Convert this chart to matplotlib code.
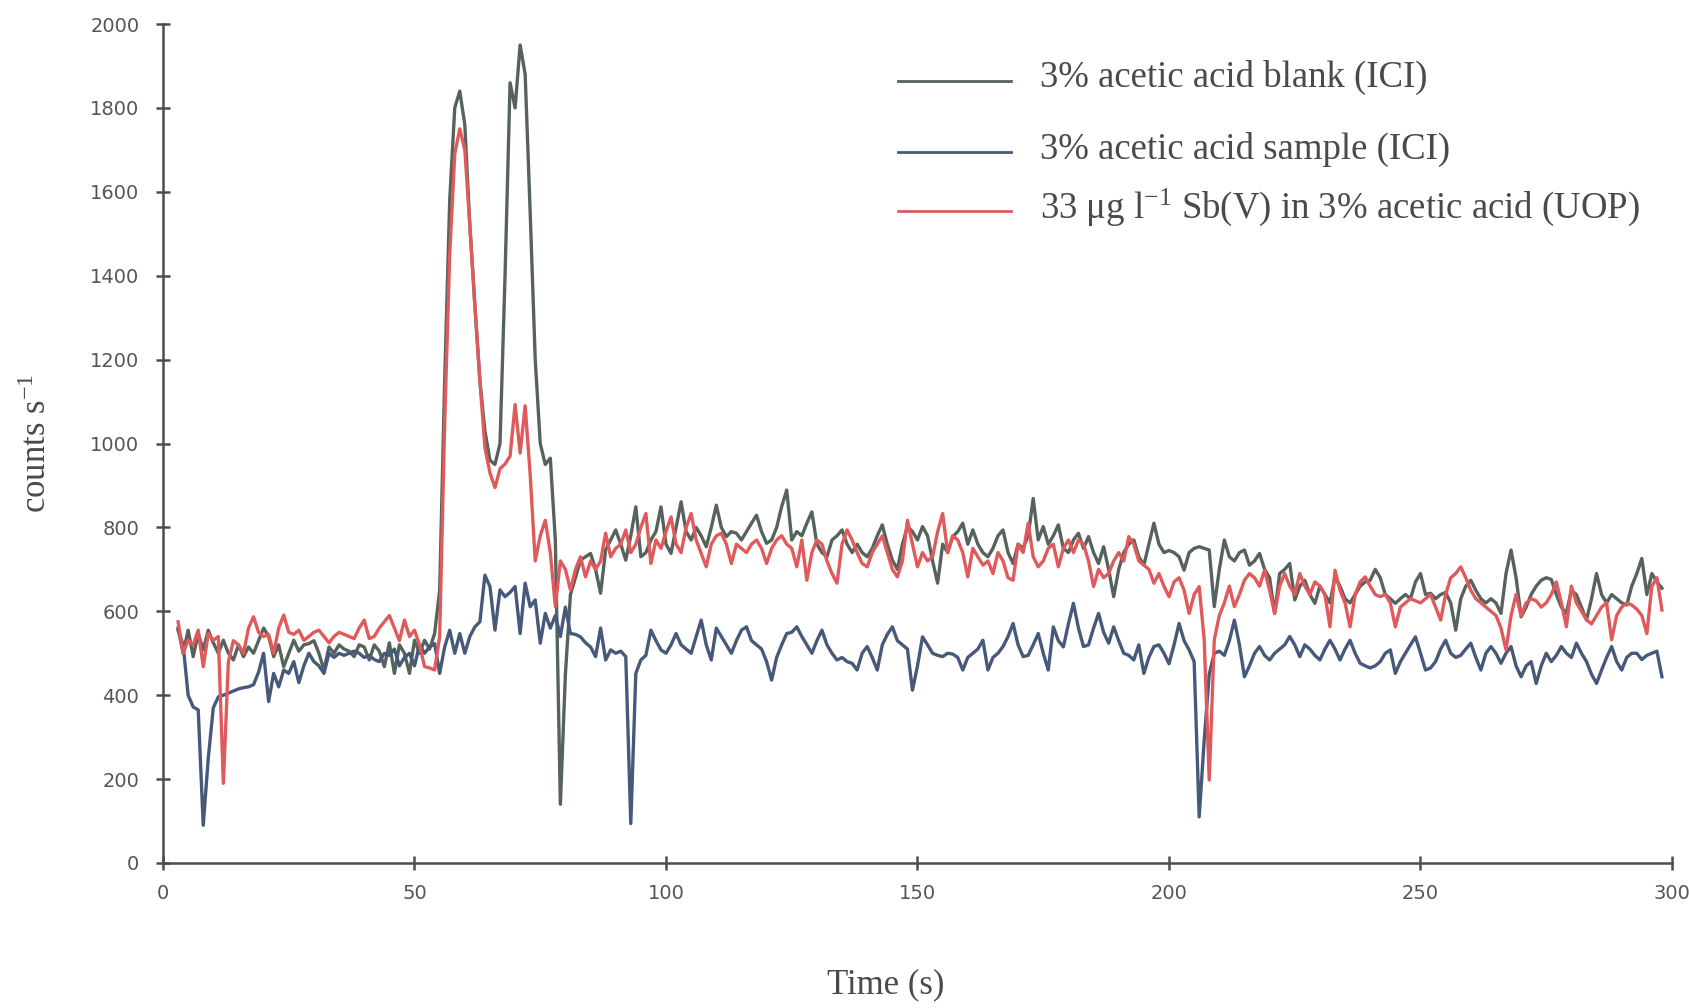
import numpy as np
import matplotlib
matplotlib.use("Agg")
import matplotlib.pyplot as plt
from matplotlib.lines import Line2D

plt.rcParams['mathtext.fontset'] = 'custom'
plt.rcParams['mathtext.rm'] = 'Liberation Serif'
plt.rcParams['mathtext.it'] = 'Liberation Serif:italic'

# ---------------- data (counts per second, sampled every 1 s from t = 3 s) ----------------
t_start = 3

blank_ici = [
    560, 500, 555, 492, 547, 508, 555, 525, 500, 531,
    500, 484, 520, 492, 515, 500, 530, 560, 540, 492,
    520, 468, 500, 531, 505, 520, 523, 530, 500, 460,
    515, 500, 520, 510, 505, 492, 520, 515, 484, 520,
    505, 468, 525, 452, 520, 500, 452, 531, 500, 531,
    510, 547, 650, 1150, 1580, 1800, 1840, 1760, 1520, 1330,
    1150, 1030, 960, 950, 1000, 1400, 1860, 1800, 1950, 1880,
    1550, 1200, 1000, 950, 965, 770, 140, 450, 640, 680,
    722, 730, 738, 700, 643, 746, 770, 794, 760, 722,
    780, 849, 730, 740, 770, 790, 849, 760, 738, 800,
    861, 790, 770, 800, 780, 754, 800, 853, 800, 778,
    790, 786, 770, 790, 810, 829, 790, 762, 770, 800,
    850, 889, 770, 790, 780, 810, 837, 760, 740, 730,
    770, 780, 794, 760, 740, 760, 740, 730, 750, 780,
    806, 760, 722, 700, 760, 802, 790, 770, 802, 780,
    720, 667, 760, 740, 778, 790, 810, 760, 794, 760,
    740, 730, 750, 780, 794, 740, 714, 760, 750, 780,
    869, 770, 802, 760, 780, 806, 750, 740, 770, 786,
    750, 778, 740, 714, 754, 700, 635, 700, 740, 760,
    770, 730, 710, 760, 810, 760, 740, 745, 740, 730,
    698, 740, 750, 754, 750, 746, 611, 700, 770, 730,
    720, 740, 746, 710, 720, 738, 700, 680, 595, 690,
    700, 714, 627, 660, 674, 640, 619, 660, 640, 620,
    682, 660, 630, 620, 640, 660, 670, 674, 700, 680,
    640, 630, 619, 630, 640, 630, 670, 690, 640, 643,
    630, 640, 645, 620, 555, 630, 660, 674, 650, 630,
    620, 630, 620, 595, 690, 746, 680, 587, 610, 640,
    660, 674, 680, 676, 640, 610, 595, 650, 640, 610,
    579, 630, 690, 640, 620, 640, 630, 620, 615, 660,
    690, 726, 640, 690, 670, 655,
]

sample_ici = [
    555, 520, 400, 372, 365, 90, 250, 370, 396, 400,
    405, 410, 415, 418, 420, 425, 455, 500, 385, 452,
    420, 460, 452, 480, 430, 470, 500, 480, 470, 452,
    500, 490, 500, 495, 500, 505, 500, 490, 495, 485,
    480, 500, 495, 510, 470, 490, 500, 470, 520, 500,
    515, 523, 452, 515, 555, 500, 547, 500, 540, 563,
    575, 686, 659, 555, 651, 635, 645, 659, 547, 667,
    611, 627, 524, 595, 560, 590, 540, 610, 547, 545,
    539, 525, 515, 492, 560, 484, 508, 500, 505, 492,
    94, 452, 484, 495, 555, 530, 508, 500, 520, 547,
    520, 510, 500, 540, 579, 520, 484, 560, 540, 520,
    500, 530, 555, 563, 530, 520, 510, 480, 436, 490,
    520, 547, 550, 563, 540, 520, 500, 530, 555, 520,
    500, 484, 490, 480, 476, 460, 500, 516, 490, 460,
    520, 545, 563, 530, 520, 510, 412, 470, 539, 520,
    500, 495, 492, 500, 498, 490, 460, 490, 500, 510,
    531, 460, 490, 500, 516, 540, 571, 520, 492, 495,
    520, 547, 500, 460, 563, 530, 515, 570, 619, 560,
    516, 520, 560, 595, 550, 524, 563, 530, 500, 495,
    484, 520, 452, 490, 516, 520, 500, 475, 520, 571,
    530, 508, 480, 110, 293, 450, 500, 505, 495, 530,
    579, 520, 444, 470, 500, 516, 495, 484, 500, 510,
    520, 540, 520, 492, 520, 510, 495, 484, 510, 531,
    510, 484, 510, 531, 500, 476, 470, 465, 470, 480,
    500, 508, 452, 480, 500, 520, 539, 500, 460, 465,
    480, 510, 531, 500, 490, 495, 510, 524, 490, 460,
    500, 516, 500, 476, 500, 516, 470, 444, 470, 480,
    428, 470, 500, 480, 495, 516, 500, 490, 524, 500,
    480, 450, 428, 460, 490, 516, 480, 460, 490, 500,
    500, 485, 495, 500, 505, 444,
]

sb_uop = [
    575, 500, 531, 520, 555, 468, 547, 531, 540, 190,
    480, 530, 520, 500, 560, 587, 550, 540, 545, 500,
    560, 591, 550, 545, 555, 531, 540, 550, 555, 540,
    525, 540, 550, 545, 540, 535, 560, 579, 535, 540,
    560, 575, 590, 560, 530, 579, 540, 555, 520, 468,
    465, 460, 540, 1050, 1450, 1690, 1750, 1700, 1520, 1330,
    1150, 990, 930, 895, 940, 951, 970, 1093, 977, 1090,
    925, 720, 780, 817, 740, 611, 720, 700, 651, 700,
    730, 682, 720, 700, 720, 786, 730, 750, 760, 794,
    740, 760, 800, 833, 714, 770, 750, 790, 825, 760,
    740, 800, 833, 770, 738, 706, 760, 780, 786, 760,
    714, 760, 750, 740, 760, 770, 750, 714, 750, 770,
    780, 760, 750, 706, 770, 674, 740, 770, 760, 720,
    690, 667, 760, 794, 770, 740, 714, 706, 740, 760,
    780, 740, 700, 682, 720, 817, 760, 706, 740, 720,
    730, 790, 833, 740, 780, 770, 740, 682, 750, 730,
    710, 720, 690, 740, 720, 680, 674, 760, 740, 810,
    730, 706, 720, 750, 760, 706, 750, 770, 740, 770,
    760, 720, 659, 700, 680, 690, 720, 740, 720, 778,
    760, 720, 710, 700, 667, 690, 660, 635, 670, 680,
    650, 595, 640, 659, 532, 198, 532, 590, 620, 660,
    611, 640, 674, 690, 680, 660, 698, 650, 595, 660,
    690, 660, 640, 690, 660, 640, 670, 660, 640, 563,
    698, 650, 620, 563, 640, 670, 682, 660, 640, 635,
    640, 620, 563, 610, 620, 630, 625, 620, 630, 640,
    610, 579, 640, 680, 690, 706, 680, 650, 630, 620,
    610, 600, 590, 560, 508, 590, 640, 590, 620, 630,
    625, 610, 620, 640, 670, 620, 563, 660, 620, 600,
    580, 570, 590, 610, 620, 532, 590, 610, 620, 615,
    605, 590, 547, 660, 680, 603,
]

labels = [
    "3% acetic acid blank (ICI)",
    "3% acetic acid sample (ICI)",
    r"33 μg l$^{\mathrm{-1}}$ Sb(V) in 3% acetic acid (UOP)",
]
x_ticks = [0, 50, 100, 150, 200, 250, 300]
y_ticks = [0, 200, 400, 600, 800, 1000, 1200, 1400, 1600, 1800, 2000]

colors = ["#56625c", "#46597a", "#e05a5c"]

# ---------------- figure ----------------
fig = plt.figure(figsize=(16.9, 10.08), dpi=100)
ax = fig.add_axes([163 / 1690, 1 - 863 / 1008, (1672 - 163) / 1690, (863 - 24) / 1008])

series = [blank_ici, sample_ici, sb_uop]
for vals, c in zip(series, colors):
    t = np.arange(t_start, t_start + len(vals))
    ax.plot(t, vals, color=c, lw=2.4, solid_joinstyle='round')

ax.set_xlim(0, 300)
ax.set_ylim(0, 2000)
ax.set_xticks(x_ticks)
ax.set_yticks(y_ticks)

for s in ["top", "right"]:
    ax.spines[s].set_visible(False)
for s in ["left", "bottom"]:
    ax.spines[s].set_color("#4d4d4d")
    ax.spines[s].set_linewidth(1.8)

ax.tick_params(axis="both", direction="inout", length=10, width=1.8, color="#4d4d4d",
               labelcolor="#555555", labelsize=14)
ax.tick_params(axis="y", pad=12)
ax.tick_params(axis="x", pad=10)

ax.set_xlabel("Time (s)", fontsize=25, family="Liberation Serif", color="#4a4a4a")
ax.xaxis.set_label_coords(0.479, -0.125)
ax.set_ylabel(r"counts s$^{\mathrm{-1}}$", fontsize=25, family="Liberation Serif", color="#4a4a4a")
ax.yaxis.set_label_coords(-0.072, 0.5)

# legend keys drawn manually to reproduce the uneven row spacing
rows_y = [0.936, 0.851, 0.781]
for lab, c, yy in zip(labels, colors, rows_y):
    ax.add_line(Line2D([0.487, 0.562], [yy - 0.004, yy - 0.004], transform=ax.transAxes,
                       color=c, lw=2.0))
    ax.text(0.581, yy, lab, transform=ax.transAxes, fontsize=26.5,
            family="Liberation Serif", color="#4a4a4a", va="center", ha="left")

fig.savefig("out.png", dpi=100)
